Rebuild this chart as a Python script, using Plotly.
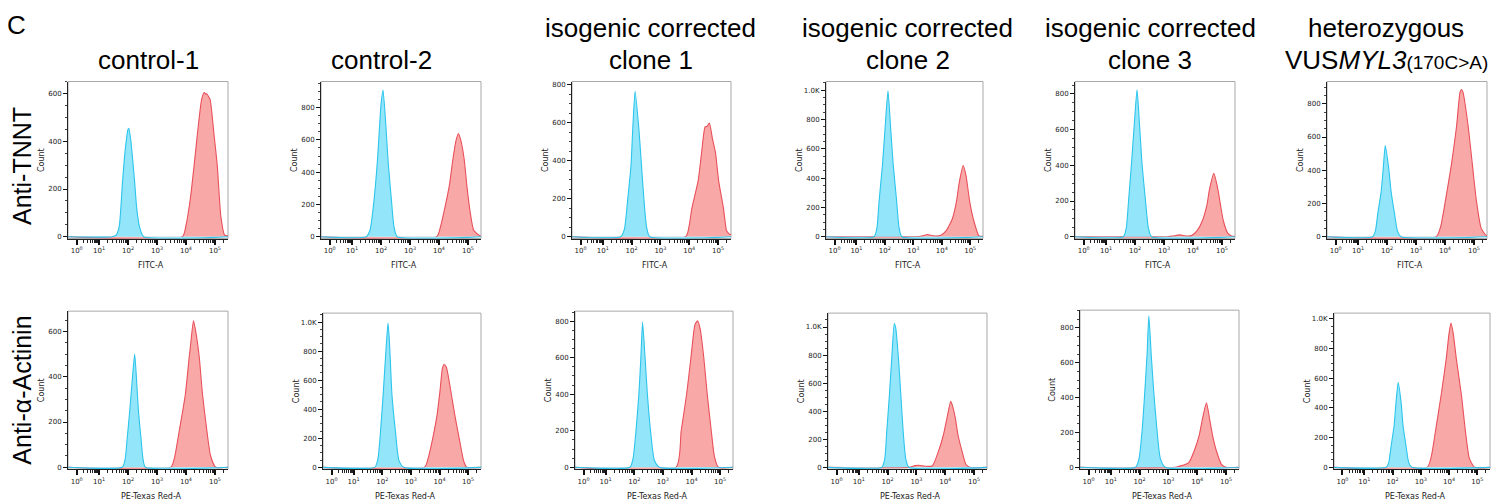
import math
import plotly.graph_objects as go

W, H = 1491, 502

# ---------------- data (x in decade display units, y = Count) ----------------
T1_BLUE_X = [1.45, 1.6, 1.7, 1.81, 1.9, 2.0, 2.03, 2.1, 2.23, 2.3, 2.4, 2.54]
T1_BLUE_Y = [0, 8, 45, 228, 360, 450, 455, 400, 228, 120, 40, 0]
T1_RED_X = [3.88, 4.0, 4.15, 4.28, 4.4, 4.54, 4.63, 4.68, 4.71, 4.83, 4.96, 5.08, 5.2, 5.33, 5.42]
T1_RED_Y = [0, 47, 159, 298, 437, 576, 605, 598, 600, 576, 437, 298, 89, 8, 4]

T2_BLUE_X = [1.49, 1.62, 1.76, 1.87, 1.95, 2.0, 2.07, 2.17, 2.25, 2.36, 2.45, 2.56]
T2_BLUE_Y = [0, 40, 227, 455, 682, 820, 909, 682, 455, 227, 60, 0]
T2_RED_X = [3.92, 4.05, 4.18, 4.36, 4.48, 4.58, 4.67, 4.75, 4.87, 4.96, 5.07, 5.2, 5.42]
T2_RED_Y = [0, 60, 160, 320, 480, 590, 640, 600, 480, 320, 160, 40, 5]

T3_BLUE_X = [1.62, 1.75, 1.86, 1.98, 2.04, 2.12, 2.25, 2.34, 2.43, 2.52, 2.63]
T3_BLUE_Y = [0, 40, 190, 380, 570, 765, 570, 380, 190, 50, 0]
T3_RED_X = [3.88, 4.0, 4.09, 4.31, 4.43, 4.55, 4.62, 4.7, 4.8, 4.91, 5.02, 5.19, 5.3, 5.42]
T3_RED_Y = [0, 60, 148, 295, 443, 577, 580, 598, 520, 443, 295, 148, 30, 12]

T4_BLUE_X = [1.62, 1.72, 1.8, 1.92, 2.01, 2.11, 2.2, 2.29, 2.41, 2.5, 2.6]
T4_BLUE_Y = [0, 60, 250, 500, 750, 995, 750, 500, 250, 60, 0]
T4_RED_X = [3.1, 3.3, 3.5, 3.7, 3.95, 4.15, 4.37, 4.52, 4.61, 4.75, 4.85, 4.98, 5.11, 5.31, 5.45]
T4_RED_Y = [0, 5, 15, 6, 8, 40, 121, 243, 364, 485, 420, 243, 121, 5, 3]

T5_BLUE_X = [1.6, 1.7, 1.78, 1.88, 1.97, 2.07, 2.16, 2.24, 2.36, 2.46, 2.57]
T5_BLUE_Y = [0, 50, 206, 412, 618, 824, 618, 412, 206, 50, 0]
T5_RED_X = [3.1, 3.3, 3.55, 3.75, 3.95, 4.15, 4.32, 4.48, 4.57, 4.72, 4.86, 4.95, 5.05, 5.2, 5.35, 5.45]
T5_RED_Y = [0, 4, 10, 4, 6, 35, 88, 177, 265, 355, 265, 177, 88, 20, 3, 2]

T6_BLUE_X = [1.5, 1.6, 1.68, 1.8, 1.87, 1.94, 2.06, 2.14, 2.26, 2.36, 2.48]
T6_BLUE_Y = [0, 35, 137, 273, 410, 548, 410, 273, 137, 35, 0]
T6_RED_X = [3.7, 3.85, 4.02, 4.23, 4.4, 4.52, 4.57, 4.62, 4.8, 4.94, 5.08, 5.25, 5.42]
T6_RED_Y = [0, 60, 222, 443, 665, 870, 886, 870, 665, 443, 222, 50, 8]

B1_BLUE_X = [1.8, 1.9, 1.97, 2.06, 2.14, 2.23, 2.3, 2.36, 2.45, 2.52, 2.6]
B1_BLUE_Y = [0, 35, 125, 250, 375, 500, 375, 250, 125, 35, 0]
B1_RED_X = [3.48, 3.6, 3.77, 3.98, 4.11, 4.15, 4.26, 4.35, 4.46, 4.57, 4.72, 4.85, 5.03]
B1_RED_Y = [0, 40, 162, 323, 485, 530, 647, 590, 485, 323, 162, 50, 0]

B2_BLUE_X = [1.74, 1.85, 1.94, 2.03, 2.11, 2.2, 2.24, 2.28, 2.34, 2.46, 2.58, 2.75]
B2_BLUE_Y = [0, 60, 248, 497, 745, 993, 900, 745, 497, 248, 50, 0]
B2_RED_X = [3.48, 3.6, 3.74, 3.91, 4.02, 4.1, 4.16, 4.24, 4.39, 4.54, 4.71, 4.85, 4.95]
B2_RED_Y = [0, 60, 177, 354, 531, 680, 708, 690, 531, 354, 177, 40, 0]

B3_BLUE_X = [1.85, 1.96, 2.06, 2.16, 2.23, 2.29, 2.38, 2.46, 2.57, 2.7, 2.88]
B3_BLUE_Y = [0, 50, 198, 397, 595, 795, 595, 397, 198, 40, 0]
B3_RED_X = [3.46, 3.64, 3.83, 3.98, 4.12, 4.21, 4.3, 4.43, 4.55, 4.69, 4.8, 4.94]
B3_RED_Y = [0, 200, 400, 600, 780, 802, 760, 600, 400, 200, 60, 0]

B4_BLUE_X = [1.8, 1.9, 1.97, 2.06, 2.14, 2.23, 2.28, 2.38, 2.46, 2.54, 2.63, 2.74]
B4_BLUE_Y = [0, 60, 255, 510, 765, 1025, 995, 765, 510, 255, 60, 0]
B4_RED_X = [2.75, 2.95, 3.1, 3.3, 3.55, 3.77, 3.94, 4.06, 4.19, 4.25, 4.35, 4.44, 4.58, 4.72, 4.85]
B4_RED_Y = [0, 12, 15, 8, 10, 117, 234, 351, 470, 440, 351, 234, 117, 20, 0]

B5_BLUE_X = [1.86, 1.98, 2.09, 2.18, 2.26, 2.32, 2.4, 2.49, 2.6, 2.72, 2.89]
B5_BLUE_Y = [0, 50, 218, 435, 653, 870, 653, 435, 218, 50, 0]
B5_RED_X = [3.25, 3.5, 3.7, 3.89, 4.07, 4.18, 4.32, 4.43, 4.53, 4.67, 4.85, 5.0]
B5_RED_Y = [0, 12, 25, 92, 185, 277, 370, 277, 185, 92, 15, 0]

B6_BLUE_X = [1.78, 1.87, 1.95, 2.06, 2.12, 2.2, 2.31, 2.37, 2.48, 2.57, 2.68]
B6_BLUE_Y = [0, 35, 142, 285, 427, 570, 427, 285, 142, 35, 0]
B6_RED_X = [3.23, 3.38, 3.52, 3.72, 3.9, 4.0, 4.07, 4.15, 4.26, 4.44, 4.58, 4.72, 4.9]
B6_RED_Y = [0, 80, 243, 485, 728, 900, 971, 900, 728, 485, 243, 60, 0]

TOP_BLUE = [(T1_BLUE_X, T1_BLUE_Y), (T2_BLUE_X, T2_BLUE_Y), (T3_BLUE_X, T3_BLUE_Y),
            (T4_BLUE_X, T4_BLUE_Y), (T5_BLUE_X, T5_BLUE_Y), (T6_BLUE_X, T6_BLUE_Y)]
TOP_RED = [(T1_RED_X, T1_RED_Y), (T2_RED_X, T2_RED_Y), (T3_RED_X, T3_RED_Y),
           (T4_RED_X, T4_RED_Y), (T5_RED_X, T5_RED_Y), (T6_RED_X, T6_RED_Y)]
BOT_BLUE = [(B1_BLUE_X, B1_BLUE_Y), (B2_BLUE_X, B2_BLUE_Y), (B3_BLUE_X, B3_BLUE_Y),
            (B4_BLUE_X, B4_BLUE_Y), (B5_BLUE_X, B5_BLUE_Y), (B6_BLUE_X, B6_BLUE_Y)]
BOT_RED = [(B1_RED_X, B1_RED_Y), (B2_RED_X, B2_RED_Y), (B3_RED_X, B3_RED_Y),
           (B4_RED_X, B4_RED_Y), (B5_RED_X, B5_RED_Y), (B6_RED_X, B6_RED_Y)]

TOP_YMAX = [651, 962, 816, 1059, 870, 934]
BOT_YMAX = [690, 1062, 855, 1099, 902, 1038]

COLUMN_TITLES = [["control-1"], ["control-2"],
                 ["isogenic corrected", "clone 1"],
                 ["isogenic corrected", "clone 2"],
                 ["isogenic corrected", "clone 3"],
                 ["heterozygous",
                  "VUS<i>MYL3</i><span style='font-size:19px'>(170C&gt;A)</span>"]]
ROW_LABELS = ["Anti-TNNT", "Anti-α-Actinin"]
X_TITLES = ["FITC-A", "PE-Texas Red-A"]
X_TICK_TEXT = ["10<sup>0</sup>", "10<sup>1</sup>", "10<sup>2</sup>",
               "10<sup>3</sup>", "10<sup>4</sup>", "10<sup>5</sup>"]

# ---------------- layout geometry (pixels) ----------------
X_RANGE = [-0.07, 5.45]
U0 = 0.23  # display position of 10^0 (biexponential compression)
TOP_BOX = [(68, 228), (321, 481), (572, 731), (826, 983), (1075, 1235), (1327, 1487)]
BOT_BOX = [(68, 228), (323, 481), (575, 733), (828, 987), (1080, 1239), (1334, 1490)]
TOP_Y = [(82, 240)] * 6
BOT_Y = [(313, 472), (315, 472), (313, 472), (315, 472), (312, 472), (315, 472)]
TITLE_X = [148.5, 381, 650.5, 908, 1150, 1386]
TITLE_LINE_Y = [28, 60]
TITLE_ONE_LINE_Y = 60

BLUE_LINE, BLUE_FILL = "#2cc4ec", "#93e6f9"
RED_LINE, RED_FILL = "#e8505a", "#f9a8a8"
FONT = "Liberation Sans, Arial, sans-serif"
SMALL_FONT = "DejaVu Sans, sans-serif"


def px_x(p):
    return p / W


def px_y(p):
    return 1 - p / H


major_x = [U0, 1, 2, 3, 4, 5]
minor_x = []
for m in range(2, 10):
    minor_x.append(U0 + (1 - U0) * math.log10(m))
for k in range(1, 6):
    for m in range(2, 10):
        v = k + math.log10(m)
        if v < X_RANGE[1]:
            minor_x.append(v)

fig = go.Figure()
annotations = []
shapes = []


def add_panel(idx, box, yb, red, blue, ymax, xtitle):
    n = "" if idx == 1 else str(idx)
    xa, ya = "x" + n, "y" + n
    for (xs, ys), line, fill in ((red, RED_LINE, RED_FILL), (blue, BLUE_LINE, BLUE_FILL)):
        xx = list(xs)
        yy = list(ys)
        if xx[0] > X_RANGE[0]:
            xx = [X_RANGE[0]] + xx
            yy = [0] + yy
        if xx[-1] < X_RANGE[1]:
            xx = xx + [X_RANGE[1]]
            yy = yy + [yy[-1]]
        fig.add_trace(go.Scatter(x=xx, y=yy, mode="lines", xaxis=xa, yaxis=ya,
                                 line=dict(color=line, width=1.1, shape="spline", smoothing=0.55),
                                 fill="tozeroy", fillcolor=fill, showlegend=False,
                                 hoverinfo="skip"))
    yt = list(range(0, int(ymax) + 1, 200))
    ytxt = ["1.0K" if v == 1000 else str(v) for v in yt]
    fig.layout["xaxis" + n] = dict(
        domain=[px_x(box[0]), px_x(box[1])], anchor=ya, range=X_RANGE,
        showgrid=False, zeroline=False, showline=True, linecolor="#222", linewidth=1,
        ticks="outside", ticklen=5, tickwidth=1.6, tickcolor="#111",
        tickmode="array", tickvals=major_x, ticktext=X_TICK_TEXT,
        tickfont=dict(family=SMALL_FONT, size=7, color="#222"),
        minor=dict(tickmode="array", tickvals=minor_x, ticks="outside",
                   ticklen=3, tickwidth=1, tickcolor="#222"),
        fixedrange=True)
    fig.layout["yaxis" + n] = dict(
        domain=[px_y(yb[1]), px_y(yb[0])], anchor=xa, range=[-ymax * 0.012, ymax],
        showgrid=False, zeroline=False, showline=True, linecolor="#222", linewidth=1,
        ticks="outside", ticklen=4, tickwidth=1.2, tickcolor="#111",
        tickmode="array", tickvals=yt, ticktext=ytxt,
        tickfont=dict(family=SMALL_FONT, size=7, color="#222"),
        minor=dict(dtick=50, tick0=0, ticks="outside", ticklen=2, tickwidth=1,
                   tickcolor="#444"),
        fixedrange=True)
    shapes.append(dict(type="rect", xref=xa + " domain", yref=ya + " domain",
                       x0=0, x1=1, y0=0, y1=1, line=dict(color="#a8a8a8", width=1),
                       layer="below"))
    annotations.append(dict(x=px_x(box[0] - 27), y=px_y((yb[0] + yb[1]) / 2),
                            xref="paper", yref="paper", text="Count", textangle=-90,
                            showarrow=False, xanchor="center", yanchor="middle",
                            font=dict(family=SMALL_FONT, size=8, color="#222")))
    annotations.append(dict(x=px_x((box[0] + box[1]) / 2 + 3), y=px_y(yb[1] + 27),
                            xref="paper", yref="paper", text=xtitle,
                            showarrow=False, xanchor="center", yanchor="middle",
                            font=dict(family=SMALL_FONT, size=8, color="#222")))


for i in range(6):
    add_panel(i + 1, TOP_BOX[i], TOP_Y[i], TOP_RED[i], TOP_BLUE[i], TOP_YMAX[i], X_TITLES[0])
for i in range(6):
    add_panel(i + 7, BOT_BOX[i], BOT_Y[i], BOT_RED[i], BOT_BLUE[i], BOT_YMAX[i], X_TITLES[1])

# column titles
for i, lines in enumerate(COLUMN_TITLES):
    ys = [TITLE_ONE_LINE_Y] if len(lines) == 1 else TITLE_LINE_Y
    for txt, yy in zip(lines, ys):
        annotations.append(dict(x=px_x(TITLE_X[i]), y=px_y(yy), xref="paper", yref="paper",
                                text=txt, showarrow=False, xanchor="center", yanchor="middle",
                                font=dict(family=FONT, size=26, color="#000")))

# row labels
for lab, yy in zip(ROW_LABELS, [167, 393]):
    annotations.append(dict(x=px_x(22), y=px_y(yy), xref="paper", yref="paper", text=lab,
                            textangle=-90, showarrow=False, xanchor="center", yanchor="middle",
                            font=dict(family=FONT, size=25, color="#000")))

# panel letter
annotations.append(dict(x=px_x(16), y=px_y(25), xref="paper", yref="paper", text="C",
                        showarrow=False, xanchor="center", yanchor="middle",
                        font=dict(family=FONT, size=26, color="#000")))

fig.update_layout(width=W, height=H, margin=dict(l=0, r=0, t=0, b=0),
                  paper_bgcolor="white", plot_bgcolor="white",
                  annotations=annotations, shapes=shapes, showlegend=False)

fig.write_html("out.html", config={"displayModeBar": False},
               post_script="document.body.style.margin='0';document.body.style.overflow='hidden';")
